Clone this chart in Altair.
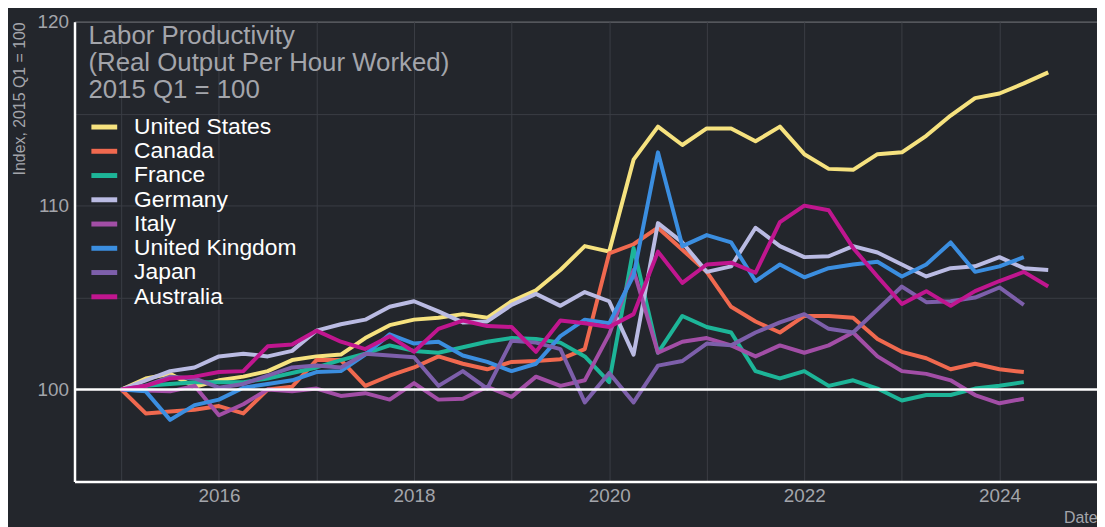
import altair as alt
import pandas as pd

countries = ["United States", "Canada", "France", "Germany", "Italy",
             "United Kingdom", "Japan", "Australia"]
colors = ["#f6e27f", "#f0694f", "#1db598", "#babbe3", "#a24ea6",
          "#3b8ee0", "#7d5fab", "#c0168f"]
title_lines = ["Labor Productivity", "(Real Output Per Hour Worked)", "2015 Q1 = 100"]

us = [100.0, 100.6, 100.85, 100.15, 100.5, 100.7, 101.0, 101.6, 101.8, 101.9,
      102.8, 103.5, 103.8, 103.9, 104.1, 103.9, 104.8, 105.4, 106.5, 107.8,
      107.5, 112.5, 114.3, 113.3, 114.2, 114.2, 113.5, 114.3, 112.8, 112.0,
      111.95, 112.8, 112.9, 113.8, 114.9, 115.85, 116.1, 116.65, 117.25]
canada = [100.0, 98.7, 98.8, 98.9, 99.1, 98.7, 100.0, 100.15, 101.6, 101.6,
          100.2, 100.75, 101.2, 101.8, 101.4, 101.1, 101.5, 101.55, 101.65, 102.2,
          107.4, 107.9, 108.8, 107.6, 106.4, 104.5, 103.7, 103.1, 104.0, 104.0,
          103.9, 102.75, 102.05, 101.7, 101.1, 101.4, 101.1, 100.95]
france = [100.0, 100.2, 100.3, 100.4, 100.4, 100.4, 100.6, 100.9, 101.2, 101.6,
          101.95, 102.4, 102.1, 102.0, 102.3, 102.6, 102.8, 102.75, 102.55, 101.8,
          100.4, 107.7, 102.0, 104.0, 103.4, 103.1, 101.0, 100.6, 101.0, 100.2,
          100.5, 100.05, 99.4, 99.7, 99.7, 100.05, 100.2, 100.4]
germany = [100.0, 100.5, 101.0, 101.2, 101.8, 101.95, 101.8, 102.1, 103.2, 103.55,
           103.8, 104.5, 104.8, 104.25, 103.65, 103.7, 104.6, 105.2, 104.55, 105.3,
           104.8, 101.9, 109.05, 108.0, 106.4, 106.7, 108.8, 107.8, 107.2, 107.25,
           107.8, 107.45, 106.8, 106.15, 106.6, 106.7, 107.2, 106.6, 106.5]
italy = [100.0, 99.95, 99.9, 100.2, 98.6, 99.2, 100.0, 99.9, 100.05, 99.65,
         99.8, 99.45, 100.35, 99.45, 99.5, 100.15, 99.6, 100.7, 100.2, 100.5,
         103.0, 106.5, 102.0, 102.6, 102.8, 102.4, 101.8, 102.4, 102.0, 102.4,
         103.1, 101.8, 101.0, 100.85, 100.5, 99.7, 99.25, 99.5]
uk = [100.0, 99.9, 98.35, 99.15, 99.45, 100.1, 100.3, 100.5, 100.95, 101.0,
      101.9, 103.0, 102.5, 102.6, 101.85, 101.5, 101.0, 101.4, 102.9, 103.8,
      103.6, 106.2, 112.9, 107.8, 108.4, 108.0, 105.9, 106.8, 106.1, 106.6,
      106.8, 106.95, 106.15, 106.8, 108.0, 106.4, 106.7, 107.2]
japan = [100.0, 100.2, 100.7, 100.6, 100.1, 100.3, 100.75, 101.2, 101.3, 101.2,
         101.95, 101.85, 101.75, 100.2, 101.0, 100.05, 102.65, 102.55, 102.2, 99.3,
         100.9, 99.3, 101.3, 101.55, 102.5, 102.4, 103.1, 103.65, 104.1, 103.3,
         103.1, 104.35, 105.6, 104.75, 104.8, 105.0, 105.55, 104.6]
australia = [100.0, 100.2, 100.6, 100.7, 100.95, 101.0, 102.35, 102.45, 103.2, 102.6,
             102.2, 102.9, 102.05, 103.3, 103.75, 103.45, 103.4, 102.05, 103.75, 103.6,
             103.4, 104.1, 107.5, 105.8, 106.8, 106.9, 106.35, 109.1, 110.0, 109.75,
             107.7, 106.15, 104.65, 105.35, 104.55, 105.35, 105.9, 106.4, 105.6]

series = [us, canada, france, germany, italy, uk, japan, australia]

quarters = [f"{2015 + i // 4} Q{i % 4 + 1}" for i in range(39)]

rows = []
for name, vals in zip(countries, series):
    for q, v in zip(quarters, vals):
        yr, qn = q.split(" Q")
        rows.append({"country": name, "quarter": q,
                     "t": int(yr) + (int(qn) - 1) / 4, "value": v,
                     "order": countries.index(name)})
df = pd.DataFrame(rows)
legend_df = pd.DataFrame({"country": countries, "idx": list(range(len(countries)))})

BG = "#23262c"
GRAY = "#a3a5ab"
GRID = "#3a3d45"
FONT = "Liberation Sans"

color_scale = alt.Scale(domain=countries, range=colors)

x_axis = alt.Axis(values=list(range(2015, 2026)),
                  labelExpr="datum.value % 2 == 0 ? datum.label : ''",
                  format="d", title="Date", titleAnchor="end", titleAlign="right",
                  titleFontSize=16, titleFontWeight="normal", titleColor=GRAY,
                  titlePadding=4, labelFontSize=19, labelColor=GRAY, labelPadding=5,
                  ticks=False, domainColor="white", domainWidth=2.5,
                  gridColor=GRID, gridWidth=1)
y_axis = alt.Axis(values=[95, 100, 105, 110, 115, 120],
                  labelExpr="datum.value % 10 == 0 ? datum.label : ''",
                  title="Index, 2015 Q1 = 100", titleAnchor="end",
                  titleFontSize=16, titleFontWeight="normal", titleColor=GRAY,
                  titlePadding=10, labelFontSize=19, labelColor=GRAY, labelPadding=6,
                  ticks=False, domainColor="white", domainWidth=2.5,
                  gridColor=GRID, gridWidth=1)

xs = alt.X("t:Q", scale=alt.Scale(domain=[2014.52, 2025.0], nice=False, zero=False),
           axis=x_axis)

lines = alt.Chart(df).mark_line(strokeWidth=4, strokeJoin="round").encode(
    x=xs,
    y=alt.Y("value:Q", scale=alt.Scale(domain=[95, 120], nice=False, zero=False),
            axis=y_axis),
    color=alt.Color("country:N", scale=color_scale, legend=None),
    order=alt.Order("order:Q"),
    detail="country:N",
)

rule = alt.Chart(pd.DataFrame({"y": [100]})).mark_rule(
    color="white", strokeWidth=2.5).encode(
    y=alt.Y("y:Q", scale=alt.Scale(domain=[95, 120], nice=False, zero=False), axis=None))

leg_y = alt.Y("idx:Q", scale=alt.Scale(domain=[0, 7], range=[106, 277]), axis=None)

leg_sym = alt.Chart(legend_df).mark_rule(strokeWidth=5).encode(
    x=alt.value(17), x2=alt.value(43), y=leg_y,
    color=alt.Color("country:N", scale=color_scale, legend=None))

leg_txt = alt.Chart(legend_df).mark_text(
    align="left", baseline="middle", fontSize=23, color="white", font=FONT).encode(
    x=alt.value(60), y=leg_y, text="country:N")

title_txt = alt.Chart(pd.DataFrame({"a": [0]})).mark_text(
    align="left", baseline="top", fontSize=26, color=GRAY, font=FONT,
    lineHeight=27.5).encode(
    x=alt.value(14), y=alt.value(1), text=alt.value(title_lines))

chart = alt.layer(lines, rule, leg_sym, leg_txt, title_txt).resolve_scale(
    y="independent").properties(
    width=1030, height=463,
    background=BG,
    autosize=alt.AutoSizeParams(type="none"),
    padding={"left": 67, "top": 12, "right": 0, "bottom": 44},
).configure_view(stroke=None).configure(font=FONT)

chart.save("out.html", embed_options={"renderer": "svg", "actions": False})
